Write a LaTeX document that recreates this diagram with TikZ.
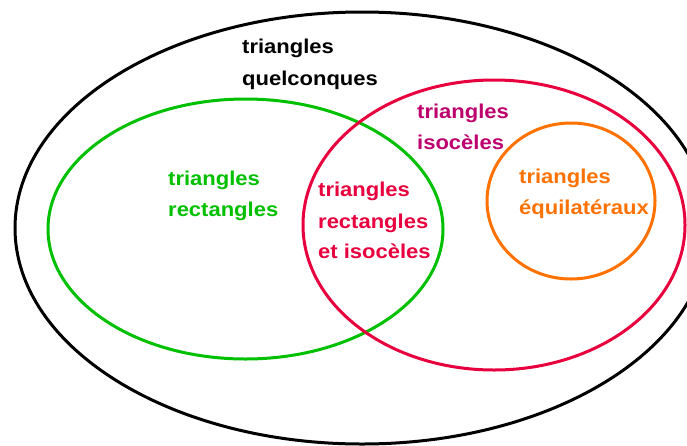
\documentclass[tikz,border=0pt]{standalone}
\usepackage{fontspec}
\setmainfont[FakeStretch=1.1]{Liberation Sans}
\definecolor{cgreen}{RGB}{0,192,0}
\definecolor{cred}{RGB}{232,0,62}
\definecolor{cmag}{RGB}{190,0,110}
\definecolor{corange}{RGB}{255,114,0}
\tikzset{
  ring/.style={line width=3pt},
  lbl/.style={anchor=base west, inner sep=0pt, font=\fontsize{20}{24}\selectfont\bfseries}
}
\begin{document}
\begin{tikzpicture}[x=1pt,y=-1pt]
\useasboundingbox (0,0) rectangle (687,445);
\clip (0,0) rectangle (687,445);
\fill[white] (0,0) rectangle (687,445);
\coordinate (cAll) at (362,228);
\coordinate (cRect) at (245.5,229);
\coordinate (cIso) at (494,225);
\coordinate (cEqui) at (571,201);
\draw[ring,black] (cAll) ellipse (347 and 216);
\draw[ring,cgreen] (cRect) ellipse (197.5 and 130);
\draw[ring,cred] (cIso) ellipse (191 and 145);
\draw[ring,corange] (cEqui) ellipse (84 and 78);
\node[lbl,black] (q1) at (242,53) {triangles};
\node[lbl,black] (q2) at (242,85) {quelconques};
\node[lbl,cgreen] (r1) at (168,185) {triangles};
\node[lbl,cgreen] (r2) at (168,216) {rectangles};
\node[lbl,cred] (ri1) at (318,196) {triangles};
\node[lbl,cred] (ri2) at (318,228) {rectangles};
\node[lbl,cred] (ri3) at (318,258) {et isocèles};
\node[lbl,cmag] (i1) at (417,118) {triangles};
\node[lbl,cmag] (i2) at (417,149) {isocèles};
\node[lbl,corange] (e1) at (519,183) {triangles};
\node[lbl,corange] (e2) at (519,214) {équilatéraux};
\end{tikzpicture}
\end{document}
